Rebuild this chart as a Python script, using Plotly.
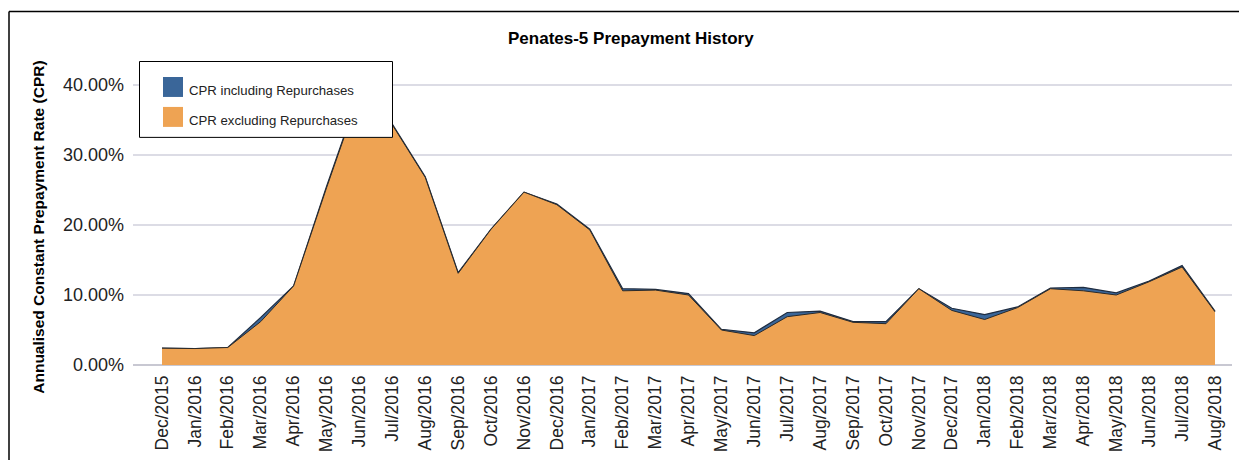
import plotly.graph_objects as go

months = ["Dec/2015", "Jan/2016", "Feb/2016", "Mar/2016", "Apr/2016", "May/2016", "Jun/2016",
          "Jul/2016", "Aug/2016", "Sep/2016", "Oct/2016", "Nov/2016", "Dec/2016", "Jan/2017",
          "Feb/2017", "Mar/2017", "Apr/2017", "May/2017", "Jun/2017", "Jul/2017", "Aug/2017",
          "Sep/2017", "Oct/2017", "Nov/2017", "Dec/2017", "Jan/2018", "Feb/2018", "Mar/2018",
          "Apr/2018", "May/2018", "Jun/2018", "Jul/2018", "Aug/2018"]

cpr_incl = [2.4, 2.35, 2.5, 6.8, 11.3, 25.5, 39.0, 34.4, 26.9, 13.2, 19.4, 24.7, 23.0, 19.4,
            10.9, 10.8, 10.2, 5.1, 4.6, 7.5, 7.7, 6.2, 6.2, 10.9, 8.1, 7.2, 8.3, 11.0,
            11.1, 10.3, 12.0, 14.2, 7.7]

cpr_excl = [2.4, 2.35, 2.5, 6.2, 11.3, 25.3, 38.8, 34.3, 26.8, 13.1, 19.4, 24.7, 22.9, 19.3,
            10.6, 10.7, 10.0, 5.0, 4.2, 6.9, 7.5, 6.1, 5.9, 10.9, 7.8, 6.5, 8.2, 10.9,
            10.6, 10.0, 11.9, 14.0, 7.6]

series_names = ["CPR including Repurchases", "CPR excluding Repurchases"]
y_ticks = [0, 10, 20, 30, 40]

BLUE = "#3A6699"
ORANGE = "#EEA353"
FONT = "Liberation Sans, Arial, sans-serif"

W, H = 1239, 460
L, R = 133, 1232
T, B = 64, 365.5

step = (1215 - 162) / 32.0
x_lo = -(162 - L) / step
x_hi = 32 + (R - 1215) / step


def px_x(x):
    return (x - L) / (R - L)


def px_y(y):
    return (B - y) / (B - T)


fig = go.Figure()
fig.add_trace(go.Scatter(x=months, y=cpr_incl, name=series_names[0], mode="lines",
                         fill="tozeroy", fillcolor=BLUE,
                         line=dict(color="#1E2C40", width=1.2), showlegend=False,
                         hoverinfo="x+y"))
fig.add_trace(go.Scatter(x=months, y=cpr_excl, name=series_names[1], mode="lines",
                         fill="tozeroy", fillcolor=ORANGE,
                         line=dict(color="#2A2A2A", width=1), showlegend=False,
                         hoverinfo="x+y"))

shapes = [
    # outer frame: only left and top edges fall inside the picture
    dict(type="line", xref="paper", yref="paper", x0=px_x(9), x1=px_x(9),
         y0=px_y(11.5), y1=px_y(462), line=dict(color="black", width=1.5), layer="below"),
    dict(type="line", xref="paper", yref="paper", x0=px_x(9), x1=px_x(1239),
         y0=px_y(11.5), y1=px_y(11.5), line=dict(color="black", width=1.5), layer="below"),
    # legend
    dict(type="rect", xref="paper", yref="paper", x0=px_x(139.5), x1=px_x(392.5),
         y0=px_y(137.5), y1=px_y(61.5), line=dict(color="black", width=1),
         fillcolor="white", layer="above"),
    dict(type="rect", xref="paper", yref="paper", x0=px_x(163), x1=px_x(183),
         y0=px_y(97), y1=px_y(77), line=dict(width=0), fillcolor=BLUE, layer="above"),
    dict(type="rect", xref="paper", yref="paper", x0=px_x(163), x1=px_x(183),
         y0=px_y(127), y1=px_y(107), line=dict(width=0), fillcolor=ORANGE, layer="above"),
]

annotations = [
    dict(text="<b>Penates-5 Prepayment History</b>", xref="paper", yref="paper",
         x=px_x(631), y=px_y(38), xanchor="center", yanchor="middle", showarrow=False,
         font=dict(family=FONT, size=17, color="black")),
    dict(text="<b>Annualised Constant Prepayment Rate (CPR)</b>", xref="paper", yref="paper",
         x=px_x(39), y=px_y(228), xanchor="center", yanchor="middle", showarrow=False,
         textangle=-90, font=dict(family=FONT, size=15.5, color="black")),
    dict(text=series_names[0], xref="paper", yref="paper", x=px_x(187), y=px_y(91),
         xanchor="left", yanchor="middle", showarrow=False,
         font=dict(family=FONT, size=13.2, color="#222222")),
    dict(text=series_names[1], xref="paper", yref="paper", x=px_x(187), y=px_y(121),
         xanchor="left", yanchor="middle", showarrow=False,
         font=dict(family=FONT, size=13.2, color="#222222")),
]

fig.update_layout(
    width=W, height=H,
    margin=dict(l=L, r=W - R, t=T, b=H - B, pad=0),
    paper_bgcolor="white", plot_bgcolor="white",
    showlegend=False,
    shapes=shapes, annotations=annotations,
    xaxis=dict(type="category", range=[x_lo, x_hi], tickangle=-90,
               tickfont=dict(family=FONT, size=17.5, color="#222222"),
               showgrid=False, zeroline=False, showline=False, ticks="",
               ticklabelstandoff=6),
    yaxis=dict(range=[0, 43], tickvals=y_ticks, ticktext=[f"{v:.2f}%" for v in y_ticks],
               tickfont=dict(family=FONT, size=18, color="#222222"),
               showgrid=True, gridcolor="#DCDCE5", gridwidth=1.5,
               zeroline=True, zerolinecolor="#C8C8D2", zerolinewidth=1.5,
               showline=False, ticks="", ticklabelstandoff=8),
)

fig.write_html("out.html", config={"displayModeBar": False},
               post_script="document.body.style.margin='0';document.body.style.overflow='hidden';")
